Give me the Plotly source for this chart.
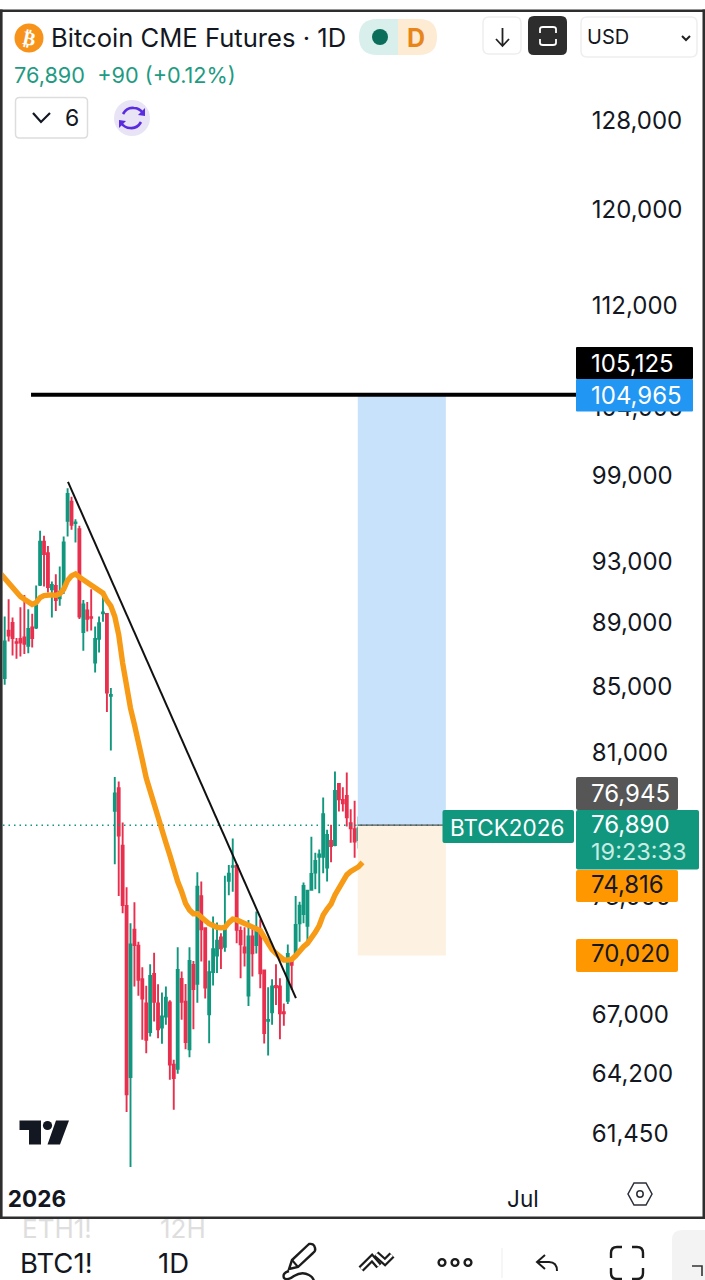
import math, re
import plotly.graph_objects as go

# ---------- data ----------
candle_open = [85500,88480,88980,87750,87950,88050,87520,88690,88690,91470,94370,93590,91180,91400,90580,91140,95820,97150,95660,95240,
88390,89790,89360,86470,87970,89610,89570,84410,77660,78940,75720,72490,64040,71250,70430,68740,67550,66160,69010,67550,
66380,66910,67600,64620,64420,68760,67630,65340,69460,68510,73010,71330,67020,69100,69930,70850,70380,73820,74580,74630,
71190,70350,67930,70900,70470,71250,69180,66710,67120,68410,68380,67120,67680,69680,69960,71590,72060,71450,73340,74260,
75120,75120,74530,75990,75760,79190,78270,78500,76970,76640,76040,76500]
candle_high = [89400,90515,89340,88010,90000,90800,89870,89570,91430,95130,94780,94090,91700,92180,92700,94730,98100,97500,95930,95470,
90470,90340,91180,88760,89400,90740,89610,84880,79580,79330,77000,73480,71590,72680,70640,69340,68420,69490,70080,68490,
68080,68380,67710,64850,70350,69130,68510,70350,69660,74280,73780,71330,69680,71940,71620,71070,74100,74670,76120,74670,
71420,71380,71760,71500,72200,71800,69210,68340,68740,69490,68790,67550,70500,69710,73010,72710,73730,73340,76220,75340,
75520,78420,76600,76880,79910,79230,79000,79850,77750,78230,77340,76945]
candle_low = [85090,87800,86910,86700,86850,87010,87050,87410,88600,91400,91360,90960,89340,89760,90100,90870,94730,95190,94320,89230,
87200,88440,88500,85850,87090,89060,83430,81130,74710,73010,72110,62440,60000,68380,67930,65790,65150,65950,66670,65870,
65600,66510,63920,62540,64200,66750,65340,64970,66300,67580,69630,67790,65630,68430,69050,69260,70130,73060,73240,70560,
68790,69380,67420,68880,70040,68290,65620,65050,66510,67470,65820,66460,67520,68210,69900,70640,71590,70470,73300,73370,
73160,74230,73780,74820,75700,77620,77620,76780,75890,75070,75570,76500]
candle_close = [87800,88180,88020,87710,87730,87650,88590,88010,90360,94370,93540,91320,91470,90470,91020,94320,97700,95540,95700,89400,
90190,89250,89310,87950,88970,89660,84600,84460,78650,76280,72540,63250,70500,70470,68710,67790,65790,68910,67630,66300,
66910,67830,64620,64000,69210,67630,65680,69660,68250,73510,71280,68330,69100,70260,70690,70300,71420,74210,74610,71250,
70500,70080,70900,70040,71250,69040,66110,66740,68380,68340,67070,67070,70010,69460,71500,72500,73550,73300,74190,74890,
75250,77470,76320,75700,78790,78310,78080,77300,76690,75950,76690,76890]
ma_values = [92210,91910,91540,91250,90920,90700,90520,90340,90190,90300,90630,90760,90810,90810,90780,90870,91180,91760,92070,92200,91980,
91800,91580,91420,91200,91090,90920,90430,90080,89400,88220,86430,84980,83650,82660,81760,80580,79520,78750,77990,77150,
76500,75890,75210,74410,73780,73250,72630,72280,72080,72080,71940,71730,71560,71450,71380,71350,71370,71620,71800,71760,
71680,71590,71490,71380,71310,71210,70870,70520,70240,70040,69880,69710,69710,69740,69920,70210,70380,70550,70810,71120,
71470,72020,72330,72590,73070,73420,73870,74140,74320,74440,74580,74816]
candle_days = list(range(len(candle_open)))
ma_days = list(range(-1, len(ma_values) - 1))

last_price = 76860
target_price = 104965
stop_price = 69930
trend_days = [16.1, 74.07]
trend_prices = [98550, 67810]
level_days = [6.7, 145.3]
box_days = [89.8, 112.2]

price_ticks = [128000,120000,112000,104000,99000,93000,89000,85000,81000,73000,67000,64200,61450]
time_ticks = [8.2, 131.8]
time_labels = ["<b>2026</b>", "Jul"]

# ---------- layout helpers (screen furniture only) ----------
W, H = 705, 1280
L, R, T, B = 3, 576, 12, 1175
UI = "Inter, 'Open Sans', sans-serif"
GREEN = "#12977f"
RED = "#e8304e"
ORANGE = "#ff9800"
TAG = 24

def xp(x): return (x - L) / (R - L)
def yp(y): return (B - y) / (B - T)

def pth(s):
    toks = re.findall(r"[A-Za-z]|-?\d+\.?\d*", s)
    out, i = [], 0
    for t in toks:
        if t.isalpha():
            out.append(t)
        else:
            out.append(f"{xp(float(t)):.5f}" if i % 2 == 0 else f"{yp(float(t)):.5f}")
            i += 1
    return " ".join(out)

def rr(x0, y0, x1, y1, r):
    return (f"M {x0+r} {y0} L {x1-r} {y0} Q {x1} {y0} {x1} {y0+r} L {x1} {y1-r} Q {x1} {y1} {x1-r} {y1} "
            f"L {x0+r} {y1} Q {x0} {y1} {x0} {y1-r} L {x0} {y0+r} Q {x0} {y0} {x0+r} {y0} Z")

fig = go.Figure()

# position boxes
fig.add_trace(go.Scatter(x=[box_days[0],box_days[1],box_days[1],box_days[0],box_days[0]],
                         y=[target_price,target_price,last_price,last_price,target_price],
                         mode="lines", line=dict(width=0), fill="toself", fillcolor="#c8e2fb", hoverinfo="skip"))
fig.add_trace(go.Scatter(x=[box_days[0],box_days[1],box_days[1],box_days[0],box_days[0]],
                         y=[last_price,last_price,stop_price,stop_price,last_price],
                         mode="lines", line=dict(width=0), fill="toself", fillcolor="#fdf1e1", hoverinfo="skip"))
# last price dotted line
fig.add_trace(go.Scatter(x=[-0.43, box_days[1]], y=[last_price,last_price], mode="lines",
                         line=dict(color=GREEN, width=1.5, dash="1.5px,4px"), hoverinfo="skip"))
fig.add_trace(go.Scatter(x=box_days, y=[last_price,last_price], mode="lines",
                         line=dict(color="#555555", width=1.3), hoverinfo="skip"))
# candles
fig.add_trace(go.Candlestick(x=candle_days, open=candle_open, high=candle_high, low=candle_low, close=candle_close,
                             increasing=dict(line=dict(color=GREEN, width=1.9), fillcolor=GREEN),
                             decreasing=dict(line=dict(color=RED, width=1.9), fillcolor=RED),
                             whiskerwidth=0, hoverinfo="skip"))
# moving average
fig.add_trace(go.Scatter(x=ma_days, y=ma_values, mode="lines",
                         line=dict(color="#f79a15", width=5.4), hoverinfo="skip"))
# trend line, level
fig.add_trace(go.Scatter(x=trend_days, y=trend_prices, mode="lines", line=dict(color="#111111", width=2), hoverinfo="skip"))
fig.add_trace(go.Scatter(x=level_days, y=[target_price,target_price], mode="lines",
                         line=dict(color="#000000", width=4), hoverinfo="skip"))

shapes = []
def box(x0, y0, x1, y1, fill, r=3, line=None, lw=1):
    shapes.append(dict(type="path", path=pth(rr(x0, y0, x1, y1, r)), xref="paper", yref="paper",
                       fillcolor=fill, line=dict(color=line or "rgba(0,0,0,0)", width=lw if line else 0), layer="above"))
def stroke(d, color="#222222", w=2, fill="rgba(0,0,0,0)"):
    shapes.append(dict(type="path", path=pth(d), xref="paper", yref="paper", fillcolor=fill,
                       line=dict(color=color, width=w), layer="above"))
def solid(d, color):
    shapes.append(dict(type="path", path=pth(d), xref="paper", yref="paper", fillcolor=color,
                       line=dict(width=0), layer="above"))
def circ(cx, cy, r, fill, line=None, lw=0):
    shapes.append(dict(type="circle", xref="paper", yref="paper", x0=xp(cx-r), x1=xp(cx+r), y0=yp(cy+r), y1=yp(cy-r),
                       fillcolor=fill, line=dict(color=line or "rgba(0,0,0,0)", width=lw), layer="above"))

annots = []
def text(x, y, s, size, color="#131722", anchor="left", family=UI, **kw):
    annots.append(dict(x=xp(x), y=yp(y), xref="paper", yref="paper", text=s, showarrow=False,
                       xanchor=anchor, yanchor="middle", font=dict(family=family, size=size, color=color),
                       borderpad=0, borderwidth=0, **kw))

# frame
solid("M 0 0 L 705 0 L 705 9.5 L 0 9.5 Z", "#ffffff")
solid("M 0 1219 L 705 1219 L 705 1280 L 0 1280 Z", "#ffffff")
solid("M 0 9.5 L 705 9.5 L 705 12 L 0 12 Z", "#2e2e2e")
solid("M 0 9.5 L 2.6 9.5 L 2.6 1219 L 0 1219 Z", "#2e2e2e")
solid("M 702.5 9.5 L 705 9.5 L 705 1219 L 702.5 1219 Z", "#2e2e2e")
solid("M 0 1216.6 L 705 1216.6 L 705 1219 L 0 1219 Z", "#2e2e2e")

# header
circ(29, 38, 14.5, "#f7931a")
text(29, 38, "<b>₿</b>", 19, "#ffffff", "center", "DejaVu Sans", textangle=12)
text(51, 38, "Bitcoin CME Futures · 1D", 25.6, "#131722")
text(14, 75, "76,890&nbsp;&nbsp;+90 (+0.12%)", 21.7, "#1f9b83")
box(15.5, 97.5, 87.5, 138, "#ffffff", 4, "#dddddd", 1.5)
stroke("M 33 113 L 41 122 L 50 113", "#131722", 2.2)
text(72, 118, "6", 23, "#131722", "center")
circ(132, 118, 18, "#e9e3f6")
stroke("M 123 114 Q 127 107 134 108 Q 139 108 143 113", "#5a2ce0", 2.6)
stroke("M 141 122 Q 137 129 130 128 Q 125 128 121 123", "#5a2ce0", 2.6)
solid("M 145 108 L 145 116 L 138 115 Z", "#5a2ce0")
solid("M 119 128 L 119 120 L 126 121 Z", "#5a2ce0")

solid("M 398 19 L 377 19 Q 359 19 359 37 Q 359 55 377 55 L 398 55 Z", "#d9efeb")
solid("M 398 19 L 419 19 Q 437 19 437 37 Q 437 55 419 55 L 398 55 Z", "#fdebd3")
circ(380, 37, 8, "#0b6e5b")
text(416, 38, "<b>D</b>", 25, "#e8851a", "center")

box(483, 17, 521, 54, "#ffffff", 6, "#eeeeee", 1.5)
stroke("M 502.5 28 L 502.5 45 M 496 39 L 502.5 46 L 509 39", "#222222", 1.8)
box(528, 16, 567, 55, "#2d2d2d", 6)
stroke("M 540 33 L 540 29 Q 540 27 543 27 L 553 27 Q 556 27 556 29 L 556 33", "#ffffff", 1.8)
stroke("M 540 39 L 540 43 Q 540 45 543 45 L 553 45 Q 556 45 556 43 L 556 39", "#ffffff", 1.8)
box(581, 17, 697, 57, "#ffffff", 6, "#eeeeee", 1.5)
text(587, 37, "USD", 20, "#131722")
stroke("M 682 36 L 686 40 L 690 36", "#222222", 2)

# price tags
box(576, 347, 693, 379, "#000000", 1)
text(591, 363, "105,125", TAG, "#ffffff")
box(576, 379, 693, 411.5, "#2196f3", 1)
text(591, 395, "104,965", TAG, "#ffffff")
box(576, 777, 678, 810, "#565656", 2)
text(591, 793, "76,945", TAG, "#ffffff")
box(442.5, 810, 574, 843, GREEN, 2)
text(450, 827, "BTCK2026", 22.5, "#ffffff")
box(576, 810, 699, 869.5, GREEN, 2)
text(591, 824, "76,890", TAG, "#ffffff")
text(591, 851, "19:23:33", 23.5, "#c6ece4")
box(576, 870, 678, 902, ORANGE, 2)
text(591, 884, "74,816", TAG, "#131722")
box(576, 939, 678, 972, ORANGE, 2)
text(591, 954, "70,020", TAG, "#131722")

# TV logo
solid("M 19.5 1120.5 L 41 1120.5 L 41 1144.5 L 29 1144.5 L 29 1130 L 19.5 1130 Z", "#131722")
circ(47.5, 1125.5, 4.6, "#131722")
solid("M 56 1120.5 L 69 1120.5 L 60 1144.5 L 47.5 1144.5 Z", "#131722")

# settings hexagon
stroke("M 634 1183 L 646 1183 L 652 1194 L 646 1205 L 634 1205 L 628 1194 Z", "#2a2e39", 1.5)
circ(640, 1194, 3.2, "rgba(0,0,0,0)", "#2a2e39", 1.5)

# bottom bar
text(22, 1228, "ETH1!", 26, "#dedede")
text(160, 1228, "12H", 26, "#dedede")
text(20, 1263, "BTC1!", 27.5, "#131722")
text(158, 1263, "1D", 27.5, "#131722")
stroke("M 289 1269 L 292 1260 L 309 1244 Q 314 1243 315 1248 Q 316 1251 313 1253 L 298 1267 Z", "#1c1c1c", 2.4)
stroke("M 292 1260 L 298 1267", "#1c1c1c", 2)
stroke("M 289 1271 Q 282 1273 284 1278 Q 287 1281 294 1276 Q 302 1271 309 1275 Q 313 1277 314 1281", "#1c1c1c", 2.4)
stroke("M 361 1269 L 372 1258 L 379 1266", "#1c1c1c", 7)
stroke("M 361 1269 L 372 1258 L 379 1266", "#ffffff", 2.5)
stroke("M 376 1254 L 385 1262 L 392 1255", "#1c1c1c", 7)
stroke("M 376 1254 L 385 1262 L 392 1255", "#ffffff", 2.5)
circ(442, 1262.5, 3.4, "rgba(0,0,0,0)", "#1c1c1c", 2.4)
circ(455, 1262.5, 3.4, "rgba(0,0,0,0)", "#1c1c1c", 2.4)
circ(468, 1262.5, 3.4, "rgba(0,0,0,0)", "#1c1c1c", 2.4)
stroke("M 502 1248 L 502 1278", "#ededed", 1)
stroke("M 545 1255 L 537 1262 L 545 1269 M 537 1262 L 549 1262 Q 557 1262 557 1271", "#1c1c1c", 2)
stroke("M 611 1258 L 611 1253 Q 611 1247 617 1247 L 622 1247 M 632 1247 L 637 1247 Q 643 1247 643 1253 L 643 1258", "#1c1c1c", 2.4)
stroke("M 611 1268 L 611 1273 Q 611 1279 617 1279 L 622 1279 M 632 1279 L 637 1279 Q 643 1279 643 1273 L 643 1268", "#1c1c1c", 2.4)
solid("M 705 1230 L 682 1230 Q 672 1230 672 1240 L 672 1280 L 705 1280 Z", "#f3f3f3")
stroke("M 692 1266 L 702 1266 L 702 1276", "#333333", 1.6)

fig.update_layout(
    width=W, height=H, margin=dict(l=L, r=W-R, t=T, b=H-B, pad=0),
    paper_bgcolor="#ffffff", plot_bgcolor="#ffffff", showlegend=False, hovermode=False,
    shapes=shapes, annotations=annots,
    xaxis=dict(type="linear", range=[-0.43, 145.3], rangeslider=dict(visible=False), showgrid=False, zeroline=False,
               showline=False, tickmode="array", tickvals=time_ticks, ticktext=time_labels, ticks="outside", ticklen=4,
               tickcolor="rgba(0,0,0,0)", tickfont=dict(family=UI, size=22.5, color="#131722")),
    yaxis=dict(type="log", side="right", range=[math.log10(59655), math.log10(138510)], showgrid=False, zeroline=False,
               showline=False, tickmode="array", tickvals=price_ticks, ticktext=[f"{v:,}" for v in price_ticks],
               ticks="outside", ticklen=10, tickcolor="rgba(0,0,0,0)", tickfont=dict(family=UI, size=24, color="#131722")),
)
fig.write_html("out.html", config={"displayModeBar": False},
               post_script="document.body.style.margin='0';document.body.style.overflow='hidden';")
